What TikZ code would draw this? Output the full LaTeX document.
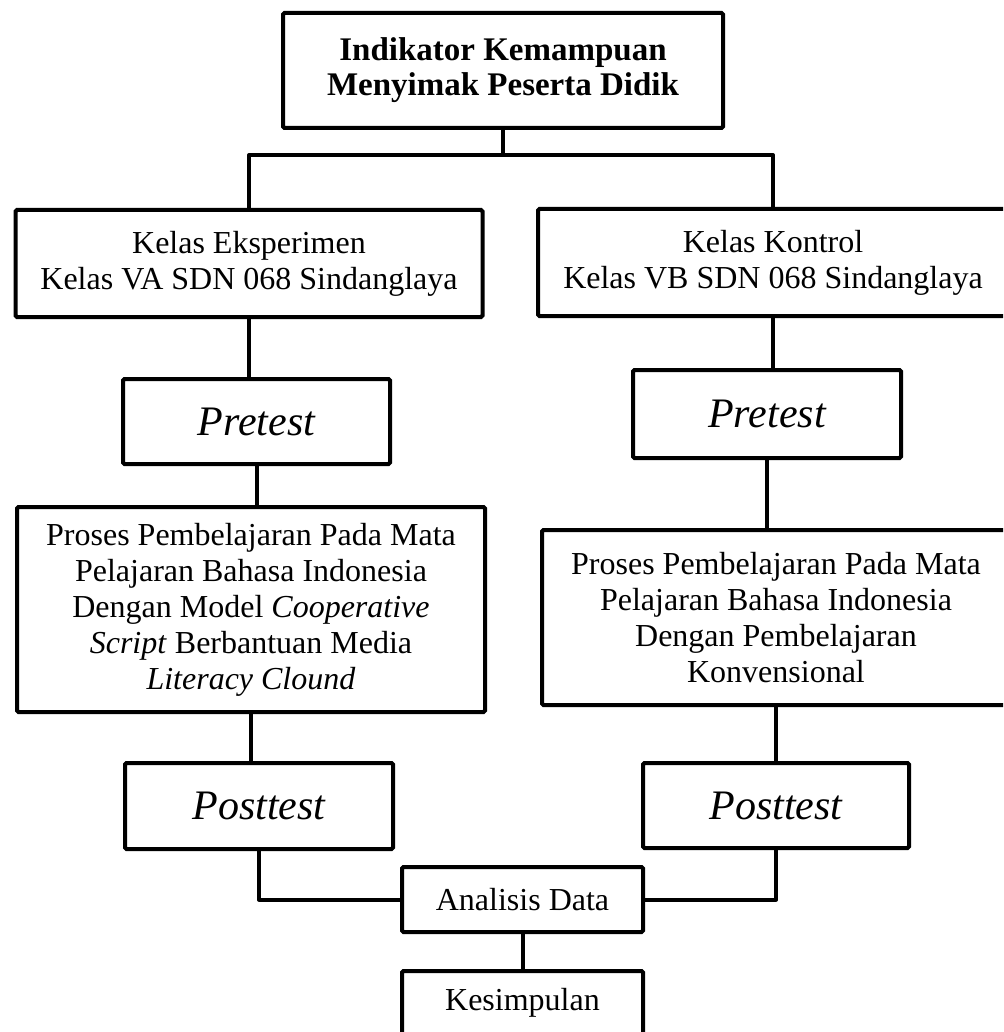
\documentclass[tikz,border=0pt]{standalone}
\usepackage{fontspec}
\setmainfont{Liberation Serif}
\begin{document}
\begin{tikzpicture}[x=1pt,y=1pt,yscale=-1,
  kotak/.style={draw, line width=4pt, rounded corners=1.5pt, inner sep=0pt, align=center, font=\fontsize{32}{36}\selectfont},
  tesbox/.style={kotak, font=\fontsize{42}{48}\selectfont\itshape},
  garis/.style={line width=4pt, line join=round}]
\clip (0,0) rectangle (1003,1032);

%Shape: Rectangle [judul]
\node (judul) at (503,70.5) [kotak, minimum width=440pt, minimum height=115pt, font=\fontsize{33}{35}\selectfont\bfseries] {Indikator Kemampuan\\Menyimak Peserta Didik};
%Shape: Rectangle [kelas eksperimen]
\node (eksp) at (249,263.5) [kotak, minimum width=467pt, minimum height=107pt] {Kelas Eksperimen\\Kelas VA SDN 068 Sindanglaya};
%Shape: Rectangle [kelas kontrol]
\node (kont) at (773,262.5) [kotak, minimum width=470pt, minimum height=107pt] {Kelas Kontrol\\Kelas VB SDN 068 Sindanglaya};
%Shape: Rectangle [pretest]
\node (preA) at (256.5,421.5) [tesbox, minimum width=267pt, minimum height=85pt] {Pretest};
\node (preB) at (767,414) [tesbox, minimum width=268pt, minimum height=88pt] {Pretest};
%Shape: Rectangle [proses]
\node (prosA) at (251,609.5) [kotak, minimum width=468pt, minimum height=205pt] {Proses Pembelajaran Pada Mata\\Pelajaran Bahasa Indonesia\\Dengan Model \textit{Cooperative}\\\textit{Script} Berbantuan Media\\\textit{Literacy Clound}};
\node (prosB) at (776,617.5) [kotak, minimum width=468pt, minimum height=175pt] {Proses Pembelajaran Pada Mata\\Pelajaran Bahasa Indonesia\\Dengan Pembelajaran\\Konvensional};
%Shape: Rectangle [posttest]
\node (postA) at (259,806) [tesbox, minimum width=268pt, minimum height=86pt] {Posttest};
\node (postB) at (776,805.5) [tesbox, minimum width=266pt, minimum height=85pt] {Posttest};
%Shape: Rectangle [analisis, kesimpulan]
\node (anal) at (522.5,899.5) [kotak, minimum width=241pt, minimum height=65pt] {Analisis Data};
\node (simp) at (522.5,1003) [kotak, minimum width=241pt, minimum height=64pt] {Kesimpulan};

\coordinate (cabang) at (503,155);

%Straight Lines
\draw [garis] (judul.south) -- (cabang);
\draw [garis] (eksp.north) |- (cabang) -| (kont.north);
\draw [garis] (eksp.south) -- (eksp.south |- preA.north);
\draw [garis] (kont.south) -- (kont.south |- preB.north);
\draw [garis] (preA.south) -- (preA.south |- prosA.north);
\draw [garis] (preB.south) -- (preB.south |- prosB.north);
\draw [garis] (prosA.south) -- (prosA.south |- postA.north);
\draw [garis] (prosB.south) -- (prosB.south |- postB.north);
\draw [garis] (postA.south) |- (anal.west);
\draw [garis] (postB.south) |- (anal.east);
\draw [garis] (anal.south) -- (simp.north);

\end{tikzpicture}
\end{document}
